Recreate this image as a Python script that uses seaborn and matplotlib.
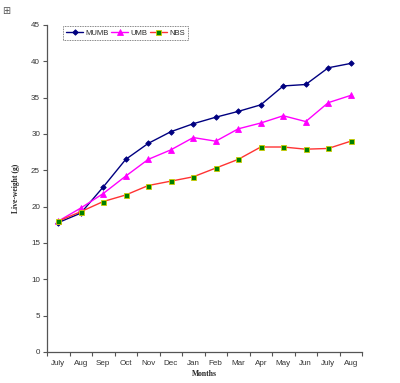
import matplotlib
import matplotlib.pyplot as plt
import numpy as np
import pandas as pd
import seaborn as sns

matplotlib.use("Agg")

months = ["July", "Aug", "Sep", "Oct", "Nov", "Dec", "Jan", "Feb",
          "Mar", "Apr", "May", "Jun", "July", "Aug"]
mumb = [17.8, 19.1, 22.7, 26.5, 28.7, 30.3, 31.4, 32.3, 33.1, 34.0, 36.6, 36.8, 39.1, 39.7]
umb = [18.0, 19.8, 21.8, 24.2, 26.5, 27.8, 29.5, 29.0, 30.7, 31.5, 32.5, 31.7, 34.3, 35.3]
nbs = [18.0, 19.3, 20.7, 21.6, 22.9, 23.5, 24.1, 25.3, 26.5, 28.2, 28.2, 27.9, 28.0, 29.0]

idx = np.arange(len(months))
df = pd.DataFrame({"idx": idx, "MUMB": mumb, "UMB": umb, "NBS": nbs})

sns.set_theme(style="white")
plt.rcParams["font.family"] = ["Liberation Sans", "DejaVu Sans"]

fig = plt.figure(figsize=(4.0, 3.83), dpi=100)
ax = fig.add_axes([0.1175, 0.081, 0.7875, 0.854])

styles = {
    "MUMB": dict(color="#000080", marker="D", markersize=2.8, markerfacecolor="#000080",
                 markeredgecolor="#000080"),
    "UMB": dict(color="#FF00FF", marker="^", markersize=3.8, markerfacecolor="#FF00FF",
                markeredgecolor="#FF00FF"),
    "NBS": dict(color="#FF3333", marker="s", markersize=3.6, markerfacecolor="#008000",
                markeredgecolor="#CCCC00"),
}
for name in ["MUMB", "UMB", "NBS"]:
    sns.lineplot(data=df, x="idx", y=name, ax=ax, linewidth=1.0, label=name,
                 markeredgewidth=0.6, **styles[name])

ax.set_xlim(-0.5, len(months) - 0.5)
ax.set_ylim(0, 45)
ax.set_yticks(range(0, 46, 5))
ax.set_xticks(np.arange(-0.5, len(months), 1.0))
ax.set_xticklabels([])
ax.set_xticks(idx, minor=True)
ax.set_xticklabels(months, minor=True)
ax.tick_params(axis="x", which="minor", length=0, pad=6, labelsize=5.8, colors="#333333")
ax.tick_params(axis="x", which="major", length=3, width=0.8, direction="out", color="#555555")
ax.tick_params(axis="y", length=3, width=0.8, direction="out", color="#555555",
               labelsize=5.8, labelcolor="#333333", pad=2)
ax.xaxis.set_tick_params(bottom=True)
ax.yaxis.set_tick_params(left=True)

for side in ["top", "right"]:
    ax.spines[side].set_visible(False)
for side in ["left", "bottom"]:
    ax.spines[side].set_color("#555555")
    ax.spines[side].set_linewidth(0.9)

ax.set_xlabel("Months", family="Liberation Serif", fontweight="bold", fontsize=5.5, labelpad=2)
ax.set_ylabel("Live-weight (g)", family="Liberation Serif", fontweight="bold", fontsize=5.5,
              labelpad=8)

leg = ax.legend(loc="upper left", bbox_to_anchor=(0.045, 1.0), ncol=3, fontsize=5.5,
                frameon=True, fancybox=False, handlelength=2.3, handletextpad=0.25,
                columnspacing=0.3, borderpad=0.4, borderaxespad=0.2)
leg.get_frame().set_edgecolor("#333333")
leg.get_frame().set_linewidth(0.6)
leg.get_frame().set_linestyle((0, (1, 1)))

fig.text(0.005, 0.985, "\u229e", fontsize=7, color="#555555", va="top", family="DejaVu Sans")

fig.savefig("out.png", dpi=100)
